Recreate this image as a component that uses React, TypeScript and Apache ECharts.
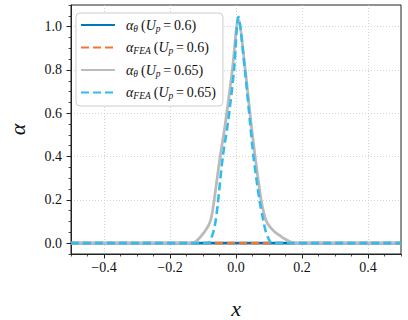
import React, { useEffect, useRef } from "react";
import * as echarts from "echarts";

const FONT = "'Liberation Serif', 'Times New Roman', serif";

// series names
const seriesNames = [
  "alpha_theta (Up=0.6)",
  "alpha_FEA (Up=0.6)",
  "alpha_theta (Up=0.65)",
  "alpha_FEA (Up=0.65)",
];

// Up = 0.6 : both identically zero over the domain
const xZero = [-0.5, 0.5];
const yThetaLow = [0, 0];
const yFeaLow = [0, 0];

// Up = 0.65, alpha_theta (grey)
const xThetaHigh = [
  -0.5, -0.13, -0.12, -0.11, -0.099, -0.09, -0.083, -0.077, -0.072, -0.066,
  -0.048, -0.033, -0.011, 0.007, 0.028, 0.046, 0.058, 0.076, 0.086, 0.094,
  0.103, 0.115, 0.13, 0.15, 0.179, 0.5,
];
const yThetaHigh = [
  0, 0, 0.01, 0.025, 0.045, 0.065, 0.082, 0.105, 0.14, 0.2,
  0.4, 0.546, 0.8, 1.035, 0.8, 0.55, 0.4, 0.2, 0.13, 0.095,
  0.075, 0.055, 0.038, 0.018, 0, 0,
];

// Up = 0.65, alpha_FEA (cyan dashed)
const xFeaHigh = [
  -0.5, -0.084, -0.076, -0.069, -0.062, -0.056, -0.04, -0.025, -0.006,
  0.007, 0.027, 0.043, 0.053, 0.071, 0.082, 0.09, 0.099, 0.108, 0.5,
];
const yFeaHigh = [
  0, 0, 0.02, 0.05, 0.1, 0.17, 0.4, 0.55, 0.8,
  1.045, 0.8, 0.55, 0.4, 0.2, 0.11, 0.055, 0.02, 0, 0,
];

const xMajorTicks = [-0.4, -0.2, 0, 0.2, 0.4];
const xMinorTicks = [
  -0.5, -0.45, -0.35, -0.3, -0.25, -0.15, -0.1, -0.05, 0.05, 0.1, 0.15, 0.25,
  0.3, 0.35, 0.45, 0.5,
];
const yMajorTicks = [0, 0.2, 0.4, 0.6, 0.8, 1.0];
const yMinorTicks = [
  -0.05, 0.05, 0.1, 0.15, 0.25, 0.3, 0.35, 0.45, 0.5, 0.55, 0.65, 0.7, 0.75,
  0.85, 0.9, 0.95, 1.05, 1.1,
];

const legendRich: Record<string, string> = {
  "alpha_theta (Up=0.6)": "{a|α}{s|θ} {t|(}{u|U}{s|p}{t|\u2009=\u20090.6)}",
  "alpha_FEA (Up=0.6)": "{a|α}{s|FEA} {t|(}{u|U}{s|p}{t|\u2009=\u20090.6)}",
  "alpha_theta (Up=0.65)": "{a|α}{s|θ} {t|(}{u|U}{s|p}{t|\u2009=\u20090.65)}",
  "alpha_FEA (Up=0.65)": "{a|α}{s|FEA} {t|(}{u|U}{s|p}{t|\u2009=\u20090.65)}",
};

const zip = (xs: number[], ys: number[]) => xs.map((x, i) => [x, ys[i]]);

const fmt = (v: number) => {
  if (Math.abs(v) < 1e-9) return "0.0";
  return v.toFixed(1).replace("-", "\u2212");
};

export default function App() {
  const ref = useRef<HTMLDivElement>(null);
  useEffect(() => {
    if (!ref.current) return;
    const chart = echarts.init(ref.current, null, { renderer: "svg" });
    const axisColor = "#222";
    const gridLine = { show: true, lineStyle: { color: "#c8c8c8", type: [1, 2], width: 0.8 } };
    chart.setOption({
      animation: false,
      backgroundColor: "#fff",
      grid: {
        left: 71,
        right: 7,
        top: 5,
        bottom: 66,
        outerBoundsMode: "none",
        containLabel: false,
        show: true,
        borderColor: axisColor,
        borderWidth: 1,
        backgroundColor: "transparent",
      },
      legend: {
        orient: "vertical",
        left: 76,
        top: 13,
        padding: [5, 7, 5, 4],
        itemWidth: 34,
        itemHeight: 14,
        itemGap: 7,
        backgroundColor: "#fff",
        borderColor: "#cccccc",
        borderWidth: 1,
        borderRadius: 4,
        data: seriesNames,
        itemStyle: { color: "rgba(0,0,0,0)", borderWidth: 0, opacity: 0 },
        formatter: (name: string) => legendRich[name],
        textStyle: {
          fontFamily: FONT,
          color: "#111",
          padding: [0, 0, 0, 6],
          rich: {
            a: { fontFamily: FONT, fontStyle: "italic", fontSize: 14, lineHeight: 17, color: "#111" },
            u: { fontFamily: FONT, fontStyle: "italic", fontSize: 14, lineHeight: 17, color: "#111" },
            t: { fontFamily: FONT, fontSize: 14, lineHeight: 17, color: "#111" },
            s: {
              fontFamily: FONT,
              fontStyle: "italic",
              fontSize: 9.5,
              lineHeight: 10,
              verticalAlign: "bottom",
              color: "#111",
            },
          },
        },
      },
      xAxis: [
        {
          type: "value",
          min: -0.5,
          max: 0.5,
          position: "bottom",
          axisLine: { show: true, onZero: false, lineStyle: { color: axisColor, width: 1 } },
          axisTick: { show: true, length: 4.5, customValues: xMajorTicks, lineStyle: { color: axisColor, width: 1 } },
          axisLabel: {
            customValues: xMajorTicks,
            formatter: fmt,
            fontFamily: FONT,
            fontSize: 14,
            color: "#111",
            margin: 6,
          },
          splitLine: gridLine,
          name: "x",
          nameLocation: "middle",
          nameGap: 43,
          nameTextStyle: { fontFamily: FONT, fontStyle: "italic", fontSize: 22, color: "#111" },
        },
        {
          type: "value",
          min: -0.5,
          max: 0.5,
          position: "bottom",
          offset: 0,
          axisLine: { show: false, onZero: false },
          axisTick: { show: true, length: 2.5, customValues: xMinorTicks, lineStyle: { color: axisColor, width: 0.8 } },
          axisLabel: { show: false },
          splitLine: { show: false },
        },
      ],
      yAxis: [
        {
          type: "value",
          min: -0.05,
          max: 1.1,
          position: "left",
          axisLine: { show: true, onZero: false, lineStyle: { color: axisColor, width: 1 } },
          axisTick: { show: true, length: 4.5, customValues: yMajorTicks, lineStyle: { color: axisColor, width: 1 } },
          axisLabel: {
            customValues: yMajorTicks,
            formatter: fmt,
            fontFamily: FONT,
            fontSize: 14,
            color: "#111",
            margin: 9,
          },
          splitLine: gridLine,
          name: "α",
          nameLocation: "middle",
          nameGap: 46,
          nameTextStyle: { fontFamily: FONT, fontStyle: "italic", fontSize: 22, lineHeight: 16, color: "#111" },
        },
        {
          type: "value",
          min: -0.05,
          max: 1.1,
          position: "left",
          offset: 0,
          axisLine: { show: false, onZero: false },
          axisTick: { show: true, length: 2.5, customValues: yMinorTicks, lineStyle: { color: axisColor, width: 0.8 } },
          axisLabel: { show: false },
          splitLine: { show: false },
        },
      ],
      series: [
        {
          name: seriesNames[0],
          type: "line",
          data: zip(xZero, yThetaLow),
          symbol: "none",
          lineStyle: { color: "#0077BB", width: 2.6 },
          itemStyle: { color: "#0077BB" },
        },
        {
          name: seriesNames[1],
          type: "line",
          data: zip(xZero, yFeaLow),
          symbol: "none",
          lineStyle: { color: "#EE7733", width: 2.6, type: [8, 4] },
          itemStyle: { color: "#EE7733" },
        },
        {
          name: seriesNames[2],
          type: "line",
          data: zip(xThetaHigh, yThetaHigh),
          symbol: "none",
          smooth: 0.3,
          lineStyle: { color: "#BBBBBB", width: 2.8 },
          itemStyle: { color: "#BBBBBB" },
        },
        {
          name: seriesNames[3],
          type: "line",
          data: zip(xFeaHigh, yFeaHigh),
          symbol: "none",
          smooth: 0.3,
          lineStyle: { color: "#33BBEE", width: 2.6, type: [8, 4] },
          itemStyle: { color: "#33BBEE" },
        },
      ],
    });
    return () => chart.dispose();
  }, []);
  return (
    <div
      ref={ref}
      style={{ position: "fixed", left: 0, top: 0, width: 408, height: 320 }}
    />
  );
}
